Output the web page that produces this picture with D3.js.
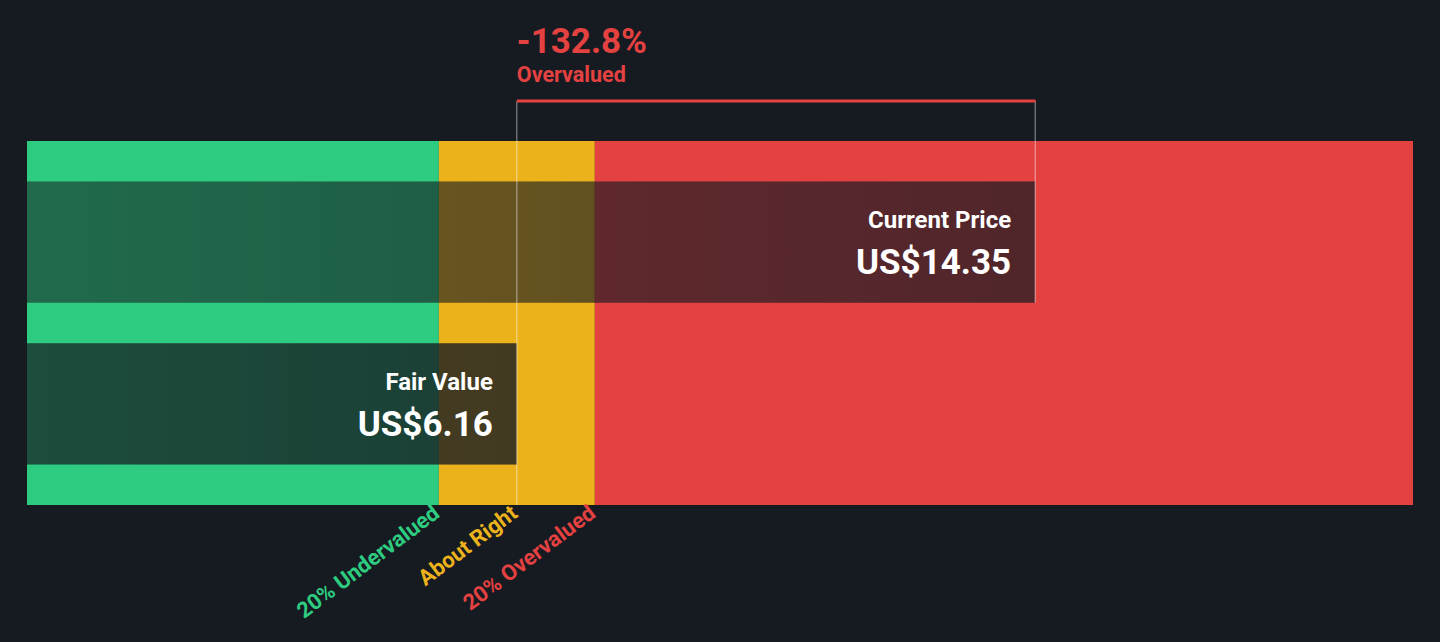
<!DOCTYPE html>
<html>
<head>
<meta charset="utf-8">
<script src="https://cdn.jsdelivr.net/npm/d3@7"></script>
<style>
  html, body { margin: 0; padding: 0; background: #161b22; }
  svg { display: block; font-family: Roboto, "Open Sans", sans-serif; }
</style>
</head>
<body>
<div id="chart"></div>
<script>
// values
const fairValue = 6.16
const currentPrice = 14.35
const diffPct = "-132.8%"
const diffLabel = "Overvalued"

const bandNames = ["20% Undervalued", "About Right", "20% Overvalued"]
const bandStarts = [-1.58, fairValue * 0.8, fairValue * 1.2]
const bandEnds = [fairValue * 0.8, fairValue * 1.2, 20.32]
const bandColors = ["#2ecc80", "#ecb21c", "#e44141"]
// where each band label is pinned on the value axis
const bandLabelAt = [fairValue * 0.8, fairValue, fairValue * 1.2]

const barNames = ["Current Price", "Fair Value"]
const barValues = [currentPrice, fairValue]
const barLabels = ["US$14.35", "US$6.16"]

async function drawChart(){
    const width = 1440
    const height = 642

    const svg = d3.select("#chart")
        .append("svg")
        .attr("width", width)
        .attr("height", height)

    svg.append("rect").attr("width", width).attr("height", height).attr("fill", "#161b22")

    const xScale = d3.scaleLinear()
        .domain([bandStarts[0], bandEnds[2]])
        .range([27, 1413])

    const yScale = d3.scaleBand()
        .domain(barNames)
        .range([141, 505])
        .paddingInner(0.25)
        .paddingOuter(0.25)

    // gradients for the dark bars
    const defs = svg.append("defs")
    const grads = [["gradCur", 0.55, 0.72], ["gradFair", 0.72, 0.8]]
    grads.forEach(([id, a, b]) => {
        const g = defs.append("linearGradient").attr("id", id)
            .attr("x1", "0%").attr("x2", "100%")
        g.append("stop").attr("offset", "0%").attr("stop-color", "#161b22").attr("stop-opacity", a)
        g.append("stop").attr("offset", "100%").attr("stop-color", "#161b22").attr("stop-opacity", b)
    })

    // colour bands
    svg.selectAll(".band")
        .data(bandNames)
        .enter().append("rect")
        .attr("class", "band")
        .attr("x", (d, i) => xScale(bandStarts[i]))
        .attr("width", (d, i) => xScale(bandEnds[i]) - xScale(bandStarts[i]))
        .attr("y", 141)
        .attr("height", 364)
        .attr("fill", (d, i) => bandColors[i])

    // bars
    svg.selectAll(".bar")
        .data(barNames)
        .enter().append("rect")
        .attr("class", "bar")
        .attr("x", xScale(bandStarts[0]))
        .attr("y", d => yScale(d))
        .attr("width", (d, i) => xScale(barValues[i]) - xScale(bandStarts[0]))
        .attr("height", yScale.bandwidth())
        .attr("fill", (d, i) => i == 0 ? "url(#gradCur)" : "url(#gradFair)")

    // thin marker lines
    const bracketY = 101
    svg.append("line")
        .attr("x1", xScale(fairValue)).attr("x2", xScale(fairValue))
        .attr("y1", bracketY).attr("y2", 505)
        .attr("stroke", "#ffffff").attr("stroke-opacity", 0.55).attr("stroke-width", 1)
    svg.append("line")
        .attr("x1", xScale(currentPrice)).attr("x2", xScale(currentPrice))
        .attr("y1", bracketY).attr("y2", yScale(barNames[0]) + yScale.bandwidth())
        .attr("stroke", "#ffffff").attr("stroke-opacity", 0.55).attr("stroke-width", 1)

    // bracket
    svg.append("line")
        .attr("x1", xScale(fairValue)).attr("x2", xScale(currentPrice) + 0.5)
        .attr("y1", bracketY).attr("y2", bracketY)
        .attr("stroke", "#e44141").attr("stroke-width", 3)

    svg.append("text")
        .attr("x", xScale(fairValue))
        .attr("y", 53)
        .attr("fill", "#e44141")
        .attr("font-size", 35)
        .attr("font-weight", "bold")
        .text(diffPct)

    svg.append("text")
        .attr("x", xScale(fairValue))
        .attr("y", 82)
        .attr("fill", "#e44141")
        .attr("font-size", 21.5)
        .attr("font-weight", "bold")
        .text(diffLabel)

    // bar labels
    barNames.forEach((name, i) => {
        const xEnd = xScale(barValues[i]) - 24
        const y0 = yScale(name)
        svg.append("text")
            .attr("x", xEnd).attr("y", y0 + 47)
            .attr("text-anchor", "end")
            .attr("fill", "#ffffff")
            .attr("font-size", 24)
            .attr("font-weight", "bold")
            .text(name)
        svg.append("text")
            .attr("x", xEnd).attr("y", y0 + 93)
            .attr("text-anchor", "end")
            .attr("fill", "#ffffff")
            .attr("font-size", 35)
            .attr("font-weight", "bold")
            .text(barLabels[i])
    })

    // band labels, rotated
    svg.selectAll(".bandLabel")
        .data(bandNames)
        .enter().append("text")
        .attr("class", "bandLabel")
        .attr("transform", (d, i) => `translate(${xScale(bandLabelAt[i]) + 2}, 516) rotate(-37)`)
        .attr("text-anchor", "end")
        .attr("fill", (d, i) => bandColors[i])
        .attr("font-size", 22)
        .attr("font-weight", "bold")
        .text(d => d)
}
drawChart()
</script>
</body>
</html>
